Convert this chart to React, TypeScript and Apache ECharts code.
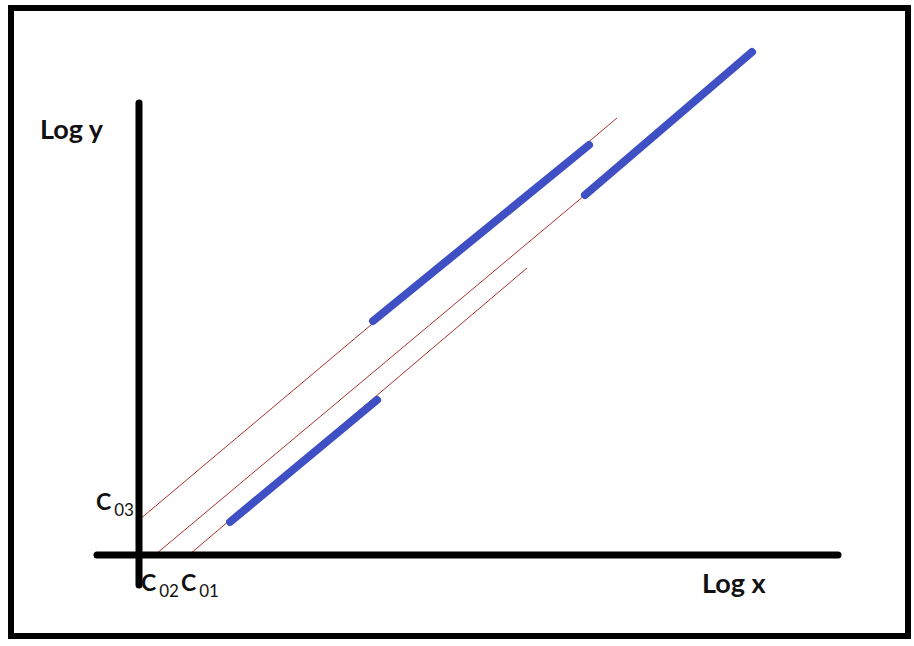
import React, { useEffect, useRef } from "react";
import * as echarts from "echarts";

// Data coordinates: origin at the axes' crossing, one unit per pixel, y up.
const xRange = [-139, 775];
const yRange = [-91, 555];

const yAxisLine = [[0, 452], [0, -30]];
const xAxisLine = [[-42, 0], [699, 0]];

const redC03 = [[0, 35], [478, 437]];
const redC02 = [[17, 1], [446, 360]];
const redC01 = [[51, 1], [388, 287]];

const blueLow = [[91, 33], [238, 155]];
const blueMid = [[234, 234], [450, 410]];
const blueHigh = [[446, 360], [613, 503]];

const FONT = "Lato, 'Open Sans', 'Noto Sans', sans-serif";

export default function App() {
  const ref = useRef<HTMLDivElement>(null);
  useEffect(() => {
    if (!ref.current) return;
    const chart = echarts.init(ref.current, null, { renderer: "svg" });
    const red = (data: number[][]) => ({
      type: "line",
      data,
      showSymbol: false,
      silent: true,
      z: 2,
      lineStyle: { color: "#a8322e", width: 1 },
    });
    const blue = (data: number[][]) => ({
      type: "line",
      data,
      showSymbol: false,
      silent: true,
      z: 3,
      lineStyle: { color: "#3f4fc4", width: 8, cap: "round" },
    });
    const black = (data: number[][]) => ({
      type: "line",
      data,
      showSymbol: false,
      silent: true,
      z: 4,
      lineStyle: { color: "#000000", width: 7, cap: "round" },
    });
    chart.setOption({
      animation: false,
      backgroundColor: "#ffffff",
      grid: { left: 0, right: 0, top: 0, bottom: 0 },
      xAxis: { type: "value", min: xRange[0], max: xRange[1], show: false },
      yAxis: { type: "value", min: yRange[0], max: yRange[1], show: false },
      series: [
        red(redC03),
        red(redC02),
        red(redC01),
        blue(blueLow),
        blue(blueMid),
        blue(blueHigh),
        black(yAxisLine),
        black(xAxisLine),
      ],
      graphic: [
        {
          type: "rect",
          shape: { x: 11, y: 8, width: 897, height: 628 },
          style: { fill: "none", stroke: "#000000", lineWidth: 6 },
          z: 10,
        },
        {
          type: "text",
          x: 40,
          y: 142,
          style: {
            text: "Log y",
            fontFamily: FONT,
            fontWeight: "bold",
            fontSize: 27,
            fill: "#111111",
            textVerticalAlign: "bottom",
          },
          z: 10,
        },
        {
          type: "text",
          x: 702,
          y: 596,
          style: {
            text: "Log x",
            fontFamily: FONT,
            fontWeight: "bold",
            fontSize: 27,
            fill: "#111111",
            textVerticalAlign: "bottom",
          },
          z: 10,
        },
        ...[
          { t: "03", x: 96, y: 512 },
          { t: "02", x: 141, y: 593 },
          { t: "01", x: 181, y: 593 },
        ].map((c) => ({
          type: "text",
          x: c.x,
          y: c.y,
          style: {
            text: "{c|C}{s|" + c.t + "}",
            textVerticalAlign: "bottom",
            rich: {
              c: {
                fontFamily: FONT,
                fontWeight: "bold",
                fontSize: 23,
                fill: "#111111",
                verticalAlign: "bottom",
              },
              s: {
                fontFamily: FONT,
                fontSize: 17,
                fill: "#111111",
                verticalAlign: "bottom",
                padding: [0, 0, -6, 3],
              },
            },
          },
          z: 10,
        })),
      ],
    });
    return () => chart.dispose();
  }, []);
  return (
    <div
      ref={ref}
      style={{ position: "fixed", left: 0, top: 0, width: 914, height: 646 }}
    />
  );
}
